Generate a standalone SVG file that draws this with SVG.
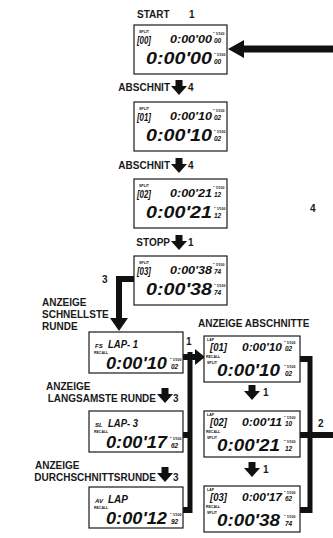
<svg xmlns="http://www.w3.org/2000/svg" xmlns:xlink="http://www.w3.org/1999/xlink" width="333" height="538" viewBox="0 0 333 538">
<style>
.bg{fill:#fff}
.box{fill:#fff;stroke:#1a1a1a;stroke-width:1.2}
.lbl{font-family:"Liberation Sans",Arial,sans-serif;font-weight:bold;font-size:10px;fill:#1a1a1a}
.lcd{font-family:"Liberation Sans",Arial,sans-serif;font-style:italic;font-weight:bold;fill:#111}
.big{font-size:17px}
.mid{font-size:10px}
.sfx{font-size:6.5px}
.tiny{font-family:"Liberation Sans",Arial,sans-serif;font-weight:bold;font-size:3.5px;fill:#111}
.conn{stroke:#111;fill:none;stroke-width:6}
.thin{stroke:#111;fill:none;stroke-width:5}
.arr{fill:#111}
</style>
<defs>
<path id="darr" class="arr" d="M-3.5,0 h7 v6 h4.5 l-8,9 l-8,-9 h4.5 z"/>
</defs>
<rect class="bg" width="333" height="538"/>

<g id="labels">
<text class="lbl" x="137" y="18">START</text>
<text class="lbl" x="189" y="18">1</text>
<text class="lbl" x="170" y="91" text-anchor="end">ABSCHNIT</text>
<text class="lbl" x="188" y="91">4</text>
<text class="lbl" x="170" y="169" text-anchor="end">ABSCHNIT</text>
<text class="lbl" x="188" y="169">4</text>
<text class="lbl" x="170" y="246" text-anchor="end">STOPP</text>
<text class="lbl" x="188" y="246">1</text>
<text class="lbl" x="310" y="212">4</text>
<text class="lbl" x="102" y="283">3</text>
<text class="lbl" x="42" y="306">ANZEIGE</text>
<text class="lbl" x="42" y="318">SCHNELLSTE</text>
<text class="lbl" x="42" y="330">RUNDE</text>
<text class="lbl" x="46" y="390">ANZEIGE</text>
<text class="lbl" x="156" y="402" text-anchor="end">LANGSAMSTE RUNDE</text>
<text class="lbl" x="173" y="402">3</text>
<text class="lbl" x="35" y="469">ANZEIGE</text>
<text class="lbl" x="156" y="481" text-anchor="end">DURCHSCHNITTSRUNDE</text>
<text class="lbl" x="173" y="481">3</text>
<text class="lbl" x="198" y="327">ANZEIGE ABSCHNITTE</text>
<text class="lbl" x="186" y="345">1</text>
<text class="lbl" x="263" y="396">1</text>
<text class="lbl" x="263" y="473">1</text>
<text class="lbl" x="318" y="427">2</text>
</g>

<g id="connectors">
<polygon class="arr" points="228,49 244,40 244,45.5 333,45.5 333,52.5 244,52.5 244,58"/>
<use xlink:href="#darr" x="179" y="80"/>
<use xlink:href="#darr" x="179" y="158"/>
<use xlink:href="#darr" x="179" y="235"/>
<path class="conn" d="M134,279 H119 V319"/>
<polygon class="arr" points="110,318 128,318 119,331"/>
<use xlink:href="#darr" x="165" y="388"/>
<use xlink:href="#darr" x="165" y="467"/>
<use xlink:href="#darr" x="252" y="385"/>
<use xlink:href="#darr" x="252" y="462"/>
<path class="thin" d="M190,352 V513"/>
<path class="conn" d="M183,357 H196"/>
<polygon class="arr" points="195,349 205,357 195,365"/>
<path class="conn" d="M183,435 H192"/>
<path class="conn" d="M183,510 H192"/>
<path class="thin" d="M310,356 V513"/>
<path class="conn" d="M300,359 H312"/>
<path class="conn" d="M300,435 H333"/>
<path class="conn" d="M300,510 H312"/>
</g>

<g id="n-start" transform="translate(134,25)">
<rect class="box" width="93" height="49"/>
<text class="tiny" x="5" y="8">SPLIT</text>
<text class="lcd mid" x="3" y="19" textLength="14" lengthAdjust="spacingAndGlyphs">[00]</text>
<text class="lcd mid" x="36" y="18" textLength="42" lengthAdjust="spacingAndGlyphs">0:00'00</text>
<text class="tiny" x="79" y="10">" 1/100</text>
<text class="lcd sfx" x="80" y="18">00</text>
<text class="lcd big" x="12" y="39" textLength="66" lengthAdjust="spacingAndGlyphs">0:00'00</text>
<text class="tiny" x="80" y="31">" 1/100</text>
<text class="lcd sfx" x="80" y="39">00</text>
</g>

<g id="n-split1" transform="translate(134,102)">
<rect class="box" width="93" height="49"/>
<text class="tiny" x="5" y="8">SPLIT</text>
<text class="lcd mid" x="3" y="19" textLength="14" lengthAdjust="spacingAndGlyphs">[01]</text>
<text class="lcd mid" x="36" y="18" textLength="42" lengthAdjust="spacingAndGlyphs">0:00'10</text>
<text class="tiny" x="79" y="10">" 1/100</text>
<text class="lcd sfx" x="80" y="18">02</text>
<text class="lcd big" x="12" y="39" textLength="66" lengthAdjust="spacingAndGlyphs">0:00'10</text>
<text class="tiny" x="80" y="31">" 1/100</text>
<text class="lcd sfx" x="80" y="39">02</text>
</g>

<g id="n-split2" transform="translate(134,179)">
<rect class="box" width="93" height="49"/>
<text class="tiny" x="5" y="8">SPLIT</text>
<text class="lcd mid" x="3" y="19" textLength="14" lengthAdjust="spacingAndGlyphs">[02]</text>
<text class="lcd mid" x="36" y="18" textLength="42" lengthAdjust="spacingAndGlyphs">0:00'21</text>
<text class="tiny" x="79" y="10">" 1/100</text>
<text class="lcd sfx" x="80" y="18">12</text>
<text class="lcd big" x="12" y="39" textLength="66" lengthAdjust="spacingAndGlyphs">0:00'21</text>
<text class="tiny" x="80" y="31">" 1/100</text>
<text class="lcd sfx" x="80" y="39">12</text>
</g>

<g id="n-stop" transform="translate(134,256)">
<rect class="box" width="93" height="49"/>
<text class="tiny" x="5" y="8">SPLIT</text>
<text class="lcd mid" x="3" y="19" textLength="14" lengthAdjust="spacingAndGlyphs">[03]</text>
<text class="lcd mid" x="36" y="18" textLength="42" lengthAdjust="spacingAndGlyphs">0:00'38</text>
<text class="tiny" x="79" y="10">" 1/100</text>
<text class="lcd sfx" x="80" y="18">74</text>
<text class="lcd big" x="12" y="39" textLength="66" lengthAdjust="spacingAndGlyphs">0:00'38</text>
<text class="tiny" x="80" y="31">" 1/100</text>
<text class="lcd sfx" x="80" y="39">74</text>
</g>

<g id="n-fastest" transform="translate(89,332)">
<rect class="box" width="94" height="41"/>
<text class="lcd" font-size="6" x="6" y="16">FS</text>
<text class="lcd mid" x="19" y="16" textLength="30" lengthAdjust="spacingAndGlyphs">LAP- 1</text>
<text class="tiny" x="5" y="21.5">RECALL</text>
<text class="lcd big" x="17" y="37" textLength="61" lengthAdjust="spacingAndGlyphs">0:00'10</text>
<text class="tiny" x="81" y="29">" 1/100</text>
<text class="lcd sfx" x="82" y="37">02</text>
</g>

<g id="n-slowest" transform="translate(89,411)">
<rect class="box" width="94" height="41"/>
<text class="lcd" font-size="6" x="6" y="16">SL</text>
<text class="lcd mid" x="19" y="16" textLength="30" lengthAdjust="spacingAndGlyphs">LAP- 3</text>
<text class="tiny" x="5" y="21.5">RECALL</text>
<text class="lcd big" x="17" y="37" textLength="61" lengthAdjust="spacingAndGlyphs">0:00'17</text>
<text class="tiny" x="81" y="29">" 1/100</text>
<text class="lcd sfx" x="82" y="37">62</text>
</g>

<g id="n-average" transform="translate(89,487)">
<rect class="box" width="94" height="41"/>
<text class="lcd" font-size="6" x="6" y="16">AV</text>
<text class="lcd mid" x="19" y="16" textLength="20" lengthAdjust="spacingAndGlyphs">LAP</text>
<text class="tiny" x="5" y="21.5">RECALL</text>
<text class="lcd big" x="17" y="37" textLength="61" lengthAdjust="spacingAndGlyphs">0:00'12</text>
<text class="tiny" x="81" y="29">" 1/100</text>
<text class="lcd sfx" x="82" y="37">92</text>
</g>

<g id="n-lap1" transform="translate(204,336)">
<rect class="box" width="96" height="46"/>
<text class="tiny" x="3" y="5">LAP</text>
<text class="lcd mid" x="6" y="15" textLength="17" lengthAdjust="spacingAndGlyphs">[01]</text>
<text class="lcd mid" x="38" y="15" textLength="40" lengthAdjust="spacingAndGlyphs">0:00'10</text>
<text class="tiny" x="80" y="8">" 1/100</text>
<text class="lcd sfx" x="81" y="15">02</text>
<text class="tiny" x="2" y="22">RECALL</text>
<text class="tiny" x="3" y="28">SPLIT</text>
<text class="lcd big" x="13" y="40" textLength="63" lengthAdjust="spacingAndGlyphs">0:00'10</text>
<text class="tiny" x="80" y="32">" 1/100</text>
<text class="lcd sfx" x="81" y="40">02</text>
</g>

<g id="n-lap2" transform="translate(204,411)">
<rect class="box" width="96" height="46"/>
<text class="tiny" x="3" y="5">LAP</text>
<text class="lcd mid" x="6" y="15" textLength="17" lengthAdjust="spacingAndGlyphs">[02]</text>
<text class="lcd mid" x="38" y="15" textLength="40" lengthAdjust="spacingAndGlyphs">0:00'11</text>
<text class="tiny" x="80" y="8">" 1/100</text>
<text class="lcd sfx" x="81" y="15">10</text>
<text class="tiny" x="2" y="22">RECALL</text>
<text class="tiny" x="3" y="28">SPLIT</text>
<text class="lcd big" x="13" y="40" textLength="63" lengthAdjust="spacingAndGlyphs">0:00'21</text>
<text class="tiny" x="80" y="32">" 1/100</text>
<text class="lcd sfx" x="81" y="40">12</text>
</g>

<g id="n-lap3" transform="translate(204,486)">
<rect class="box" width="96" height="46"/>
<text class="tiny" x="3" y="5">LAP</text>
<text class="lcd mid" x="6" y="15" textLength="17" lengthAdjust="spacingAndGlyphs">[03]</text>
<text class="lcd mid" x="38" y="15" textLength="40" lengthAdjust="spacingAndGlyphs">0:00'17</text>
<text class="tiny" x="80" y="8">" 1/100</text>
<text class="lcd sfx" x="81" y="15">62</text>
<text class="tiny" x="2" y="22">RECALL</text>
<text class="tiny" x="3" y="28">SPLIT</text>
<text class="lcd big" x="13" y="40" textLength="63" lengthAdjust="spacingAndGlyphs">0:00'38</text>
<text class="tiny" x="80" y="32">" 1/100</text>
<text class="lcd sfx" x="81" y="40">74</text>
</g>
</svg>
